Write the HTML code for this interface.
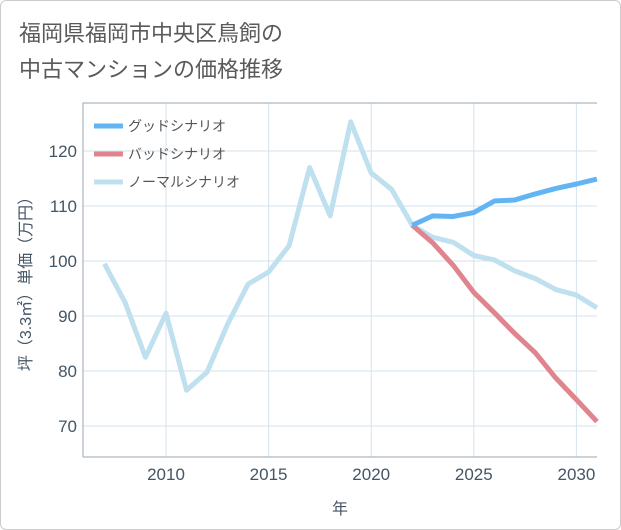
<!DOCTYPE html>
<html><head><meta charset="utf-8"><style>
body{margin:0;background:#fff;font-family:"Liberation Sans","Noto Sans CJK JP",sans-serif;}
#wrap{position:relative;width:619px;height:528px;border:1px solid #ccc;border-radius:6px;overflow:hidden;background:#fff}
.t{position:absolute;left:18px;font-size:22px;color:#5a5a5a;}
</style></head><body>
<div id="wrap">
<div class="t" style="top:15px">福岡県福岡市中央区鳥飼の</div>
<div class="t" style="top:51px">中古マンションの価格推移</div>
<svg id="c" width="621" height="530" style="position:absolute;left:-1px;top:-1px"></svg>
</div>
<script>
const years=[2007,2008,2009,2010,2011,2012,2013,2014,2015,2016,2017,2018,2019,2020,2021,2022,2023,2024,2025,2026,2027,2028,2029,2030,2031];
const normal=[99.5,92.5,82.5,90.5,76.5,79.8,88.5,95.8,98,102.8,117,108.2,125.3,116,113,106.5,104.3,103.4,101,100.2,98.2,96.8,94.8,93.8,91.5];
const goodYears=[2022,2023,2024,2025,2026,2027,2028,2029,2030,2031];
const good=[106.5,108.2,108.1,108.8,110.9,111.1,112.2,113.2,114,114.9];
const bad=[106.5,103.3,99.2,94.3,90.6,86.8,83.3,78.7,74.8,70.8];
const xTicks=[2010,2015,2020,2025,2030];
const yTicks=[70,80,90,100,110,120];
const L=83,R=597,T=103,B=457;
const x=v=>166+(v-2010)*20.52;
const y=v=>261-(v-100)*5.5;
const s=document.getElementById('c');const NS='http://www.w3.org/2000/svg';
function mk(t,a,p){const e=document.createElementNS(NS,t);for(const k in a)e.setAttribute(k,a[k]);(p||s).appendChild(e);return e;}
xTicks.forEach(v=>{const l=mk('line',{x1:x(v),x2:x(v),y1:T,y2:B,stroke:'#d3e3ee','stroke-width':1});


const t=mk('text',{x:x(v),y:480,'text-anchor':'middle','font-size':17,fill:'#456'});t.textContent=v;

});
yTicks.forEach(v=>{const l=mk('line',{x1:L,x2:R,y1:y(v),y2:y(v),stroke:'#d3e3ee','stroke-width':1});


const t=mk('text',{x:77,y:y(v)+6,'text-anchor':'end','font-size':17,fill:'#456'});t.textContent=v;

});
const ax=mk('path',{d:`M${L},${B}V${T}H${R}M${L},${B}H${R}`,stroke:'#9aa6b0',fill:'none','stroke-width':1});


function line(xs,ys,c,n){const p=mk('polyline',{points:xs.map((v,i)=>x(v)+','+y(ys[i])).join(' '),fill:'none',stroke:c,'stroke-width':5,'stroke-linejoin':'round'});

}
line(years,normal,'#bfe0ee','normal-scenario-line');
line(goodYears,bad,'#e0858e','bad-scenario-line');
line(goodYears,good,'#62b5f2','good-scenario-line');
[['グッドシナリオ','#62b5f2'],['バッドシナリオ','#e0858e'],['ノーマルシナリオ','#bfe0ee']].forEach((d,i)=>{
const yy=126+i*28;
const l=mk('line',{x1:94,x2:123,y1:yy,y2:yy,stroke:d[1],'stroke-width':5});


const t=mk('text',{x:128,y:yy+5,'font-size':14,fill:'#555'});t.textContent=d[0];

});
const xt=mk('text',{x:340,y:514,'text-anchor':'middle','font-size':16,fill:'#456'});xt.textContent='年';


const yt=mk('text',{transform:'translate(31,280) rotate(-90)','text-anchor':'middle','font-size':16,fill:'#456'});yt.textContent='坪（3.3㎡）単価（万円）';


</script>
</body></html>
